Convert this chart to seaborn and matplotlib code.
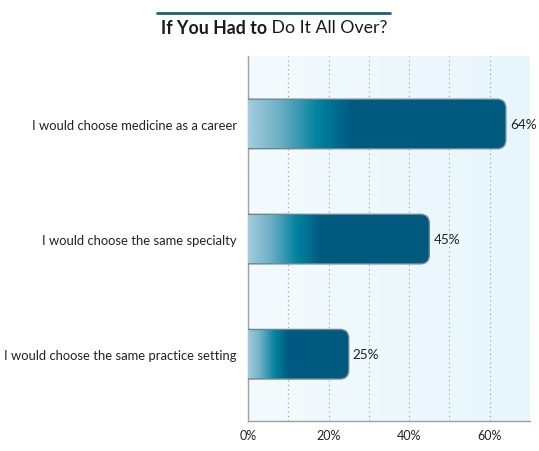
import numpy as np
import pandas as pd
import matplotlib
matplotlib.use("Agg")
import matplotlib.pyplot as plt
from matplotlib.colors import LinearSegmentedColormap
from matplotlib.patches import FancyBboxPatch
from matplotlib.lines import Line2D
import seaborn as sns

categories = ["I would choose medicine as a career",
              "I would choose the same specialty",
              "I would choose the same practice setting"]
values = [64, 45, 25]
value_labels = ["64%", "45%", "25%"]
xtick_values = [0, 20, 40, 60]
xtick_labels = ["0%", "20%", "40%", "60%"]
title_bold = "If You Had to"
title_rest = " Do It All Over?"

sns.set_theme(style="white")
plt.rcParams['font.family'] = ['Lato', 'DejaVu Sans']

df = pd.DataFrame({"category": categories, "value": values})

fig = plt.figure(figsize=(5.39, 4.52), dpi=100)
ax = fig.add_axes([248/539, 1-422/452, 282/539, 365/452])

sns.barplot(data=df, x="value", y="category", orient="h", width=0.43,
            color="#005a80", ax=ax, zorder=3)

ax.set_xlim(0, 70)
ax.set_ylim(2.58, -0.59)

# background gradient
bg = LinearSegmentedColormap.from_list("bg", ["#f4fbfe", "#e7f6fd"])
ax.imshow(np.linspace(0, 1, 256).reshape(1, -1), cmap=bg, aspect="auto",
          extent=[0, 1, 0, 1], transform=ax.transAxes, zorder=0)

bar_cmap = LinearSegmentedColormap.from_list(
    "bar", [(0.0, "#a3ccdc"), (0.12, "#6fb0c6"), (0.27, "#00829f"),
            (0.40, "#005a80"), (1.0, "#005a80")])

# geometry conversion for rounded corners
xpp = 70 / 282.0
ypp = 3.17 / 365.0
for p in list(ax.patches):
    x0, y0 = p.get_x(), p.get_y()
    w, h = p.get_width(), p.get_height()
    p.set_visible(False)
    r = 9 * xpp
    box = FancyBboxPatch((x0 - 4, y0), w + 4, h,
                         boxstyle=f"round,pad=0,rounding_size={r}",
                         mutation_aspect=ypp / xpp,
                         facecolor="none", edgecolor="#6d8591", linewidth=1.0,
                         zorder=4)
    ax.add_patch(box)
    im = ax.imshow(np.linspace(0, 1, 256).reshape(1, -1), cmap=bar_cmap,
                   aspect="auto", extent=[x0, x0 + w, y0 + h, y0], zorder=3)
    im.set_clip_path(box)

ax.set_xlim(0, 70)
ax.set_ylim(2.58, -0.59)

for i, (v, lab) in enumerate(zip(values, value_labels)):
    ax.text(v + 1.0, i, lab, va="center", ha="left", fontsize=9.7, color="#222222")

ax.set_xticks(xtick_values)
ax.set_xticklabels(xtick_labels, fontsize=9, color="#222222")
ax.set_xticks([10, 30, 50], minor=True)
ax.grid(axis="x", which="both", linestyle=(0, (1, 3)), color="#9a9a9a",
        linewidth=0.8, zorder=1)
ax.set_axisbelow(True)
ax.tick_params(axis="x", which="both", length=0, pad=6)
ax.tick_params(axis="y", which="major", length=0, pad=8, labelsize=9.35,
               labelcolor="#222222")
ax.set_yticks([0.5, 1.5], minor=True)
ax.tick_params(axis="y", which="minor", direction="in", length=6, width=0.8,
               color="#333333")
ax.set_xlabel("")
ax.set_ylabel("")
for s in ["top", "right"]:
    ax.spines[s].set_visible(False)
for s in ["left", "bottom"]:
    ax.spines[s].set_color("#a0a0a0")
    ax.spines[s].set_linewidth(1.0)

# title
fig.add_artist(Line2D([157/539, 390/539], [1-14/452, 1-14/452],
                      color="#1f5f78", linewidth=2.0))
t1 = fig.text(0, 1-28/452, title_bold, fontsize=12.8, fontweight="bold",
              color="#1a1a1a", va="center", ha="left")
t2 = fig.text(0, 1-28/452, title_rest, fontsize=12.8, color="#1a1a1a",
              va="center", ha="left")
fig.canvas.draw()
r = fig.canvas.get_renderer()
w1 = t1.get_window_extent(r).width
w2 = t2.get_window_extent(r).width
start = 274 - (w1 + w2) / 2
t1.set_x(start / 539)
t2.set_x((start + w1) / 539)

fig.savefig("out.png", dpi=100)
